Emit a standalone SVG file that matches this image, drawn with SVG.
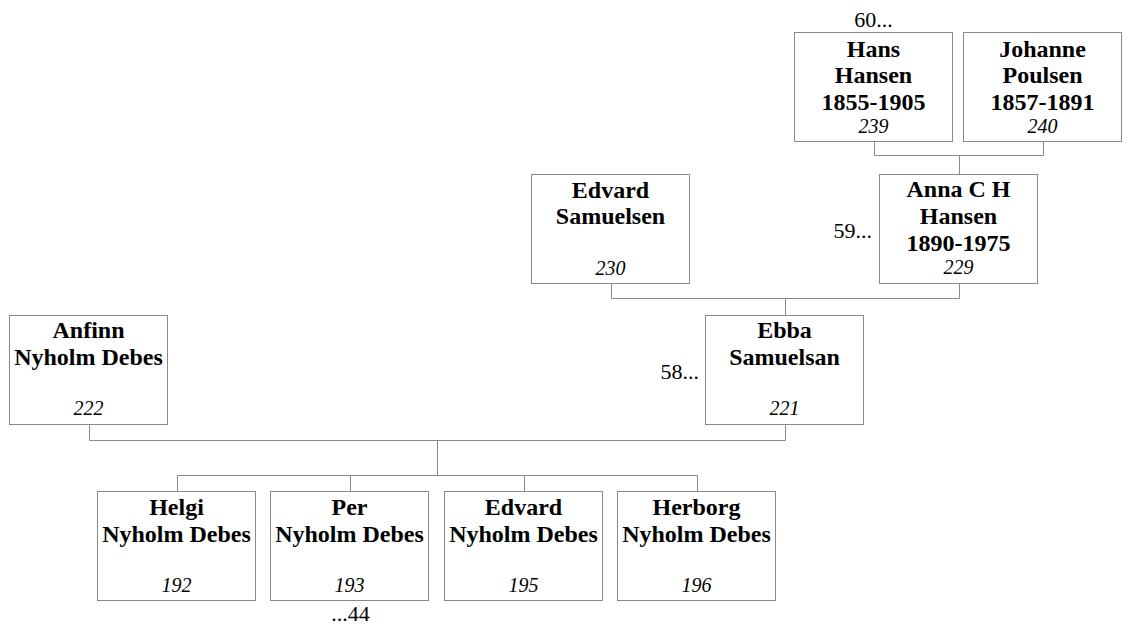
<svg xmlns="http://www.w3.org/2000/svg" width="1126" height="626" viewBox="0 0 1126 626">
<style>
.box{fill:#fff;stroke:#8a8a8a;stroke-width:1}
.con{fill:none;stroke:#8a8a8a;stroke-width:1}
.nm{font-family:"Liberation Serif","Times New Roman",serif;font-weight:bold;font-size:24px;text-anchor:middle;fill:#000}
.id{font-family:"Liberation Serif","Times New Roman",serif;font-style:italic;font-size:20px;text-anchor:middle;fill:#000}
.lb{font-family:"Liberation Serif","Times New Roman",serif;font-size:22px;fill:#000}
</style>
<rect width="1126" height="626" fill="#fff"/>
<g id="connectors">
<path class="con" d="M874.5,142 V155.5 H1043.5 V142 M959.5,155.5 V174"/>
<path class="con" d="M611.5,283 V298.5 H959.5 V283 M785.5,298.5 V315"/>
<path class="con" d="M89.5,424 V440.5 H785.5 V424 M437.5,440.5 V475"/>
<path class="con" d="M177.5,491 V475.5 H697.5 V491 M350.5,475.5 V491 M524.5,475.5 V491"/>
</g>
<g id="n239">
<rect class="box" x="794.5" y="32.5" width="158" height="109"/>
<text class="nm" x="873.5" y="57">Hans</text>
<text class="nm" x="873.5" y="83">Hansen</text>
<text class="nm" x="873.5" y="110">1855-1905</text>
<text class="id" x="873.5" y="133">239</text>
<text class="lb" x="873.5" y="27" text-anchor="middle">60...</text>
</g>
<g id="n240">
<rect class="box" x="963.5" y="32.5" width="158" height="109"/>
<text class="nm" x="1042.5" y="57">Johanne</text>
<text class="nm" x="1042.5" y="83">Poulsen</text>
<text class="nm" x="1042.5" y="110">1857-1891</text>
<text class="id" x="1042.5" y="133">240</text>
</g>
<g id="n230">
<rect class="box" x="531.5" y="174.5" width="158" height="109"/>
<text class="nm" x="610.5" y="198">Edvard</text>
<text class="nm" x="610.5" y="224">Samuelsen</text>
<text class="id" x="610.5" y="275">230</text>
</g>
<g id="n229">
<rect class="box" x="879.5" y="174.5" width="158" height="109"/>
<text class="nm" x="958.5" y="197">Anna C H</text>
<text class="nm" x="958.5" y="224">Hansen</text>
<text class="nm" x="958.5" y="251">1890-1975</text>
<text class="id" x="958.5" y="273.5">229</text>
<text class="lb" x="872" y="238" text-anchor="end">59...</text>
</g>
<g id="n222">
<rect class="box" x="9.5" y="315.5" width="158" height="109"/>
<text class="nm" x="88.5" y="338">Anfinn</text>
<text class="nm" x="88.5" y="365">Nyholm Debes</text>
<text class="id" x="88.5" y="415">222</text>
</g>
<g id="n221">
<rect class="box" x="705.5" y="315.5" width="158" height="109"/>
<text class="nm" x="784.5" y="338">Ebba</text>
<text class="nm" x="784.5" y="365">Samuelsan</text>
<text class="id" x="784.5" y="415">221</text>
<text class="lb" x="699" y="379" text-anchor="end">58...</text>
</g>
<g id="n192">
<rect class="box" x="97.5" y="491.5" width="158" height="109"/>
<text class="nm" x="176.5" y="515">Helgi</text>
<text class="nm" x="176.5" y="542">Nyholm Debes</text>
<text class="id" x="176.5" y="592">192</text>
</g>
<g id="n193">
<rect class="box" x="270.5" y="491.5" width="158" height="109"/>
<text class="nm" x="349.5" y="515">Per</text>
<text class="nm" x="349.5" y="542">Nyholm Debes</text>
<text class="id" x="349.5" y="592">193</text>
<text class="lb" x="350.5" y="621" text-anchor="middle">...44</text>
</g>
<g id="n195">
<rect class="box" x="444.5" y="491.5" width="158" height="109"/>
<text class="nm" x="523.5" y="515">Edvard</text>
<text class="nm" x="523.5" y="542">Nyholm Debes</text>
<text class="id" x="523.5" y="592">195</text>
</g>
<g id="n196">
<rect class="box" x="617.5" y="491.5" width="158" height="109"/>
<text class="nm" x="696.5" y="515">Herborg</text>
<text class="nm" x="696.5" y="542">Nyholm Debes</text>
<text class="id" x="696.5" y="592">196</text>
</g>
</svg>
